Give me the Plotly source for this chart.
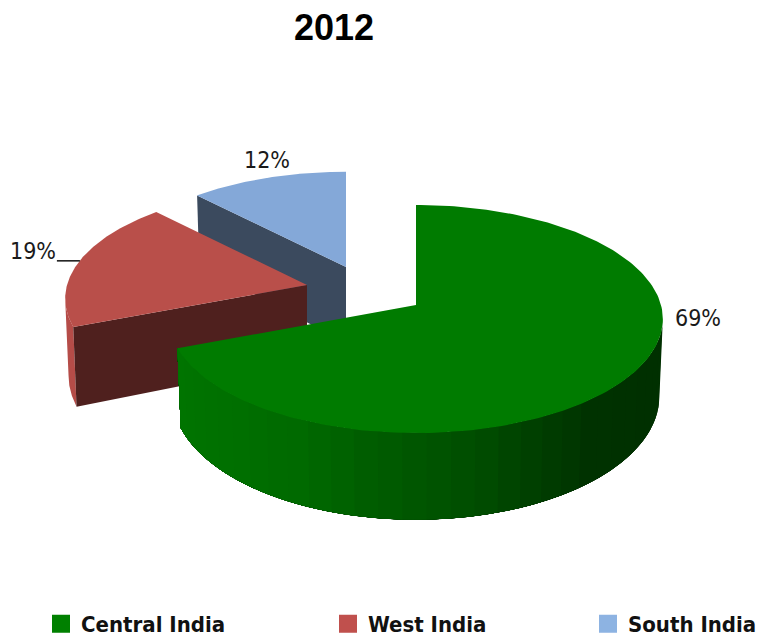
import numpy as np
import plotly.graph_objects as go

# Chart data
title = "2012"
regions = ["Central India", "West India", "South India"]
shares = [69, 19, 12]

# Appearance of each exploded wedge
apex_x = [416, 307, 346]
apex_y = [305, 285, 267]
radius_x = [245, 240, 237]
radius_y = [112.3, 109, 107]
top_colors = ["#007b00", "#b94f4a", "#84a8d8"]
cut_colors = [None, "#4f201e", "#3b4a5e"]
swatch_colors = ["#008000", "#c0504d", "#8db3e2"]
label_xy = [(698, 318), (33, 251), (267, 160)]
legend_left = [41, 328, 588]

TILT = 0.123    # foreshortening of the far side of the disc
DEPTH = 76      # extrusion height of the disc
TAPER = 0.986   # lower rim sits slightly inside the upper rim
LABEL_FONT = "DejaVu Sans Condensed, Roboto, sans-serif"

W, H = 761, 639

# Angles at which the projected rim is widest, right and left
RIGHT_EXTREME = np.arccos(-TILT)
LEFT_EXTREME = 2 * np.pi - RIGHT_EXTREME


def rim(i, theta):
    """Project a clockwise-from-north angle onto the tilted rim of wedge i."""
    s = 1 / (1 + TILT * np.cos(theta))
    return (apex_x[i] + radius_x[i] * np.sin(theta) * s,
            apex_y[i] - radius_y[i] * np.cos(theta) * s,
            s)


def lower(i, x, y, s):
    """Point of the lower rim below an upper-rim point of wedge i."""
    return apex_x[i] + (x - apex_x[i]) * TAPER, y + DEPTH * s


def poly(fig, xs, ys, color):
    fig.add_trace(go.Scatter(
        x=xs, y=ys, mode="lines", fill="toself", fillcolor=color,
        line=dict(color=color, width=0), hoverinfo="skip", showlegend=False,
    ))


def wall(fig, i, t0, t1, steps, color_of):
    """Extruded outer wall: each band runs to the far end and is overpainted
    by the next one, which keeps the shading free of seams."""
    edges = np.linspace(t0, t1, steps + 1)
    for a, b in zip(edges[:-1], edges[1:]):
        t = np.linspace(a, t1, 40)
        x, y, s = rim(i, t)
        lx, ly = lower(i, x, y, s)
        bx, _, _ = rim(i, (a + b) / 2)
        poly(fig, [*x, *lx[::-1]], [*y, *ly[::-1]], color_of(bx))


def cut_face(fig, i, theta):
    """Flat radial face of wedge i, extruded downwards."""
    x, y, s = rim(i, theta)
    lx, ly = lower(i, x, y, s)
    poly(fig,
         [x, apex_x[i], apex_x[i], lx, x],
         [y, apex_y[i], apex_y[i] + DEPTH, ly, y],
         cut_colors[i])


def top_face(fig, i, samples=120):
    x, y, _ = rim(i, np.linspace(starts[i], ends[i], samples))
    poly(fig, [apex_x[i], *x, apex_x[i]], [apex_y[i], *y, apex_y[i]],
         top_colors[i])


def green_shade(x):
    stops_x = [183, 300, 370, 470, 540, 590, 665]
    g = np.interp(x, stops_x, [0x74, 0x6a, 0x5d, 0x4f, 0x3f, 0x33, 0x30])
    return f"rgb(0,{int(g)},0)"


# Wedge angles, clockwise from twelve o'clock
total = sum(shares)
bounds = np.cumsum([0] + shares) / total * 2 * np.pi
starts, ends = bounds[:-1], bounds[1:]

fig = go.Figure()

# South India: cut face on its left radius, then the top
cut_face(fig, 2, starts[2])
top_face(fig, 2)

# West India: sliver of rim wall, front cut face, then the top
wall(fig, 1, starts[1], LEFT_EXTREME, 1, lambda x: "#b54c48")
cut_face(fig, 1, starts[1])
top_face(fig, 1)

# Central India: shaded rim wall, then the top
wall(fig, 0, RIGHT_EXTREME, ends[0], 30, green_shade)
top_face(fig, 0, 200)

# Leader line of the West India label
xm, ym, _ = rim(1, (starts[1] + ends[1]) / 2)
fig.add_trace(go.Scatter(x=[xm - 22, xm + 1], y=[ym - 1, ym - 1], mode="lines",
                         line=dict(color="#111111", width=1.5),
                         hoverinfo="skip", showlegend=False))

# Legend-only traces, one legend per entry so they spread across the foot
legend_ids = ["legend", "legend2", "legend3"]
for name, color, lid in zip(regions, swatch_colors, legend_ids):
    fig.add_trace(go.Scatter(
        x=[None], y=[None], mode="markers", name=name, legend=lid,
        marker=dict(symbol="square", size=16, color=color,
                    line=dict(color=color, width=2)),
        showlegend=True,
    ))

legend_style = dict(
    orientation="h", xanchor="left", yanchor="middle", y=1 - 624 / H,
    bgcolor="rgba(0,0,0,0)", itemsizing="trace", itemwidth=30,
    font=dict(family=LABEL_FONT, size=22, weight=700, color="#111111"),
)

fig.update_layout(
    width=W, height=H,
    margin=dict(l=0, r=0, t=0, b=0, autoexpand=False),
    paper_bgcolor="white", plot_bgcolor="white",
    xaxis=dict(range=[0, W], visible=False, fixedrange=True),
    yaxis=dict(range=[H, 0], visible=False, fixedrange=True),
    title=dict(text=f"<b>{title}</b>", x=334 / W, xanchor="center",
               y=1 - 27 / H, yanchor="middle",
               font=dict(family="Liberation Sans", size=36, color="black")),
    legend=dict(x=legend_left[0] / W, **legend_style),
    legend2=dict(x=legend_left[1] / W, **legend_style),
    legend3=dict(x=legend_left[2] / W, **legend_style),
    annotations=[
        dict(x=lx, y=ly, text=f"{v}%", showarrow=False, xref="x", yref="y",
             font=dict(family=LABEL_FONT, size=23, color="#1a1a1a"))
        for v, (lx, ly) in zip(shares, label_xy)
    ],
)

fig.write_html("out.html")
